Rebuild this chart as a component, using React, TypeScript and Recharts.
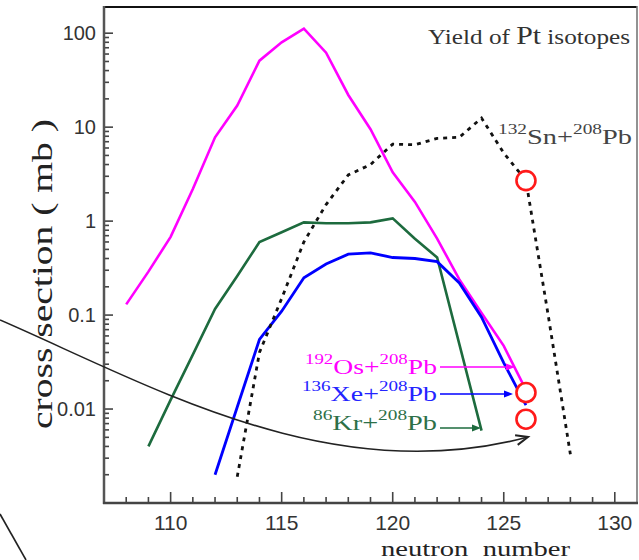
import React from "react";
import { LineChart, Line, XAxis, YAxis, ReferenceDot } from "recharts";

// 192Os+208Pb
const osN = [108, 109, 110, 111, 112, 113, 114, 115, 116, 117, 118, 119, 120, 121, 122, 123, 124, 125, 126];
const osY = [0.13, 0.29, 0.68, 2.2, 7.8, 17, 51, 80, 112, 62, 22, 9.5, 3.3, 1.6, 0.65, 0.24, 0.105, 0.047, 0.016];
// 136Xe+208Pb
const xeN = [112, 113, 114, 115, 116, 117, 118, 119, 120, 121, 122, 123, 124, 125, 126];
const xeY = [0.002, 0.0105, 0.055, 0.11, 0.25, 0.35, 0.445, 0.46, 0.41, 0.4, 0.37, 0.22, 0.095, 0.031, 0.011];
// 86Kr+208Pb
const krN = [109, 110, 111, 112, 113, 114, 115, 116, 117, 118, 119, 120, 121, 122, 123, 124];
const krY = [0.004, 0.0125, 0.038, 0.116, 0.26, 0.6, 0.76, 0.97, 0.95, 0.95, 0.97, 1.07, 0.65, 0.41, 0.049, 0.0059];
// 132Sn+208Pb
const snN = [113, 114, 115, 116, 117, 118, 119, 120, 121, 122, 123, 124, 125, 126, 127, 128];
const snY = [0.0019, 0.04, 0.15, 0.6, 1.5, 3.1, 4.0, 6.6, 6.5, 7.6, 7.8, 12.5, 5.3, 2.7, 0.1, 0.0033];

// red circles
const markN = [126, 126, 126];
const markY = [2.7, 0.015, 0.0078];

const xTicks = [108, 109, 110, 111, 112, 113, 114, 115, 116, 117, 118, 119, 120, 121, 122, 123, 124, 125, 126, 127, 128, 129, 130];
const xLabels = [110, 115, 120, 125, 130];
const yMajor = [0.01, 0.1, 1, 10, 100];
const yLabels = ["0.01", "0.1", "1", "10", "100"];
const yDecades = [0.001, 0.01, 0.1, 1, 10, 100];
const yMinor = [2, 3, 4, 5, 6, 7, 8, 9];

const yTicks = yDecades
  .flatMap((d) => [d, ...yMinor.map((m) => Number((m * d).toPrecision(2)))])
  .filter((v) => v > 0.001 && v <= 190);

const pts = (ns: number[], vs: number[]) => ns.map((n, i) => ({ n, v: vs[i] }));

const MAGENTA = "#ff00ff";
const BLUE = "#0000ff";
const GREEN = "#1d6b3e";
const SANS = "'Liberation Sans', Arial, sans-serif";
const SERIF = "'Liberation Serif', 'Times New Roman', serif";

const renderXTick = (props: any) => {
  const { x, y, payload } = props;
  const v = payload.value;
  const major = xLabels.includes(v);
  return (
    <g key={`xt-${v}`}>
      <line x1={x} y1={y} x2={x} y2={y - (major ? 11 : 6)} stroke="#444" strokeWidth={1.6} />
      {major && (
        <text x={x} y={y + 19} textAnchor="middle" dominantBaseline="central" fontFamily={SANS} fontSize={21} fill="#333">
          {v}
        </text>
      )}
    </g>
  );
};

const renderYTick = (props: any) => {
  const { x, y, payload } = props;
  const v = payload.value;
  const idx = yMajor.findIndex((m) => Math.abs(m - v) < m * 1e-6);
  const major = idx >= 0;
  return (
    <g key={`yt-${v}`}>
      <line x1={x} y1={y} x2={x + (major ? 9 : 5)} y2={y} stroke="#444" strokeWidth={1.6} />
      {major && (
        <text x={x - 8} y={y} textAnchor="end" dominantBaseline="central" fontFamily={SANS} fontSize={20} fill="#333">
          {yLabels[idx]}
        </text>
      )}
    </g>
  );
};

const Sup = ({ s, m, dy }: { s: string; m: string; dy: number }) => (
  <>
    <tspan fontSize={15} dy={-dy}>{s}</tspan>
    <tspan dy={dy}>{m}</tspan>
  </>
);

const Overlay = () => (
  <svg width={639} height={560} style={{ position: "absolute", left: 0, top: 0, pointerEvents: "none" }}>
    {/* frame */}
    <line x1={103} y1={7} x2={637} y2={7} stroke="#111" strokeWidth={2} />
    <line x1={637} y1={6} x2={637} y2={503} stroke="#777" strokeWidth={1.6} />
    <line x1={104} y1={6} x2={104} y2={504} stroke="#555" strokeWidth={2.5} />
    <line x1={103} y1={503} x2={638} y2={503} stroke="#444" strokeWidth={2.5} />

    {/* titles */}
    <text x={428} y={44} fontFamily={SERIF} fontSize={22} fill="#333" textLength={202} lengthAdjust="spacingAndGlyphs">
      Yield of <tspan fontSize={26}>Pt</tspan> isotopes
    </text>
    <text x={498} y={144} fontFamily={SERIF} fontSize={22} fill="#444" textLength={134} lengthAdjust="spacingAndGlyphs">
      <Sup s="132" m="Sn+" dy={10} />
      <Sup s="208" m="Pb" dy={10} />
    </text>

    {/* legend labels with arrows */}
    <text x={305} y={374} fontFamily={SERIF} fontSize={22} fill={MAGENTA} textLength={132} lengthAdjust="spacingAndGlyphs">
      <Sup s="192" m="Os+" dy={10} />
      <Sup s="208" m="Pb" dy={10} />
    </text>
    <line x1={440} y1={367} x2={508} y2={367} stroke={MAGENTA} strokeWidth={1.5} />
    <polygon points="515,367 506,363.5 506,370.5" fill={MAGENTA} />

    <text x={302} y={401} fontFamily={SERIF} fontSize={22} fill="#2424ff" textLength={135} lengthAdjust="spacingAndGlyphs">
      <Sup s="136" m="Xe+" dy={10} />
      <Sup s="208" m="Pb" dy={10} />
    </text>
    <line x1={440} y1={394} x2={506} y2={394} stroke={BLUE} strokeWidth={1.5} />
    <polygon points="513,394 504,390.5 504,397.5" fill={BLUE} />

    <text x={313} y={430} fontFamily={SERIF} fontSize={22} fill="#2d7048" textLength={124} lengthAdjust="spacingAndGlyphs">
      <Sup s="86" m="Kr+" dy={10} />
      <Sup s="208" m="Pb" dy={10} />
    </text>
    <line x1={440} y1={428} x2={474} y2={428} stroke={GREEN} strokeWidth={1.5} />
    <polygon points="481,428 472,424.5 472,431.5" fill={GREEN} />

    {/* black curved arrow */}
    <path d="M0,320 C150,385 330,490 528,437" fill="none" stroke="#222" strokeWidth={1.6} />
    <polyline points="517.7,444.9 528,437 515.1,435.3" fill="none" stroke="#222" strokeWidth={2} />
    <line x1={0} y1={514} x2={26} y2={560} stroke="#222" strokeWidth={1.6} />

    {/* axis titles */}
    <text
      transform="translate(52,274) rotate(-90)"
      textAnchor="middle"
      fontFamily={SERIF}
      fontSize={30}
      fill="#222"
      textLength={310}
      lengthAdjust="spacingAndGlyphs"
    >
      cross section ( mb )
    </text>
    <text x={381} y={556} fontFamily={SERIF} fontSize={22} fill="#222" textLength={189} lengthAdjust="spacingAndGlyphs">
      {"neutron\u00a0\u00a0number"}
    </text>
  </svg>
);

export default function App() {
  return (
    <div style={{ position: "absolute", left: 0, top: 0, width: 639, height: 560, background: "#fff" }}>
      <LineChart width={639} height={560} margin={{ top: 7, right: 2, bottom: 56, left: 103 }}>
        <XAxis
          type="number"
          dataKey="n"
          domain={[107, 131]}
          ticks={xTicks}
          interval={0}
          allowDataOverflow
          height={1}
          tickSize={0}
          tickMargin={0}
          axisLine={false}
          tickLine={false}
          tick={renderXTick}
        />
        <YAxis
          type="number"
          scale="log"
          domain={[0.001, 190]}
          ticks={yTicks}
          interval={0}
          allowDataOverflow
          width={1}
          tickSize={0}
          tickMargin={0}
          axisLine={false}
          tickLine={false}
          tick={renderYTick}
        />
        <Line data={pts(osN, osY)} dataKey="v" type="linear" stroke={MAGENTA} strokeWidth={2.6} dot={false} isAnimationActive={false} />
        <Line data={pts(krN, krY)} dataKey="v" type="linear" stroke={GREEN} strokeWidth={2.6} dot={false} isAnimationActive={false} />
        <Line data={pts(xeN, xeY)} dataKey="v" type="linear" stroke={BLUE} strokeWidth={2.8} dot={false} isAnimationActive={false} />
        <Line
          data={pts(snN, snY)}
          dataKey="v"
          type="linear"
          stroke="#111"
          strokeWidth={2.8}
          strokeDasharray="4 5"
          dot={false}
          isAnimationActive={false}
        />
        {markN.map((n, i) => (
          <ReferenceDot key={i} x={n} y={markY[i]} r={9.5} fill="#fff" stroke="#ff1a1a" strokeWidth={2.6} />
        ))}
      </LineChart>
      <Overlay />
    </div>
  );
}
